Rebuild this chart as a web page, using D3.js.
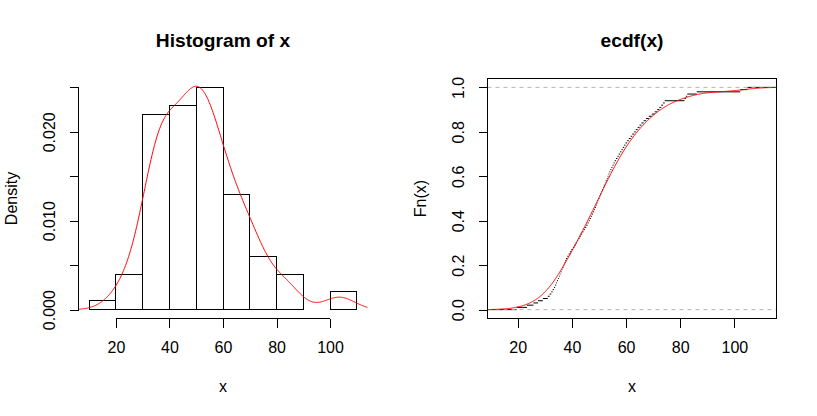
<!DOCTYPE html>
<html><head><meta charset="utf-8">
<script src="https://cdn.jsdelivr.net/npm/d3@7"></script>
<style>
body{margin:0;background:#fff;}
svg{display:block;}
text{font-family:"Liberation Sans",Arial,sans-serif;fill:#000;}
</style></head><body>
<svg id="chart" width="817" height="416"></svg>
<script>
// ---- data ----
const xValues = [
  19.6,
  23.4, 25.8, 27.5, 29.3,
  31.1, 31.8, 32.4, 32.9, 33.4, 33.8, 34.2, 34.5, 34.9, 35.2, 35.5, 35.8, 36.2, 36.5, 36.9, 37.2, 37.5, 37.8, 38.3, 38.8, 39.3, 39.8,
  40.4, 40.9, 41.4, 41.9, 42.3, 42.8, 43.3, 43.8, 44.3, 44.8, 45.3, 45.8, 46.2, 46.6, 47.0, 47.4, 47.8, 48.2, 48.5, 48.9, 49.2, 49.5, 49.8,
  50.2, 50.5, 50.9, 51.2, 51.5, 51.8, 52.2, 52.5, 52.9, 53.2, 53.5, 53.8, 54.2, 54.6, 55.0, 55.4, 55.8, 56.3, 56.8, 57.3, 57.8, 58.3, 58.8, 59.3, 59.8,
  60.4, 61.0, 61.7, 62.3, 63.0, 63.6, 64.3, 65.0, 65.7, 66.5, 67.4, 68.4, 69.5,
  70.6, 71.5, 72.3, 73.0, 73.7, 74.3,
  81.6, 82.1, 82.6, 86.1,
  102.2, 104.8
];
const histBreaks = [10, 20, 30, 40, 50, 60, 70, 80, 90, 100, 110];
const histXTicks = [20, 40, 60, 80, 100];
const histYTicks = [0, 0.005, 0.010, 0.015, 0.020, 0.025];
const histYLabels = ["0.000", "", "0.010", "", "0.020", ""];
const ecdfXTicks = [20, 40, 60, 80, 100];
const ecdfYTicks = [0, 0.2, 0.4, 0.6, 0.8, 1.0];
const ecdfYLabels = ["0.0", "0.2", "0.4", "0.6", "0.8", "1.0"];
const titles = ["Histogram of x", "ecdf(x)"];
const xLabels = ["x", "x"];
const yLabels = ["Density", "Fn(x)"];

// ---- derived statistics (as R does) ----
const svg = d3.select("#chart");
const n = xValues.length;
const sorted = xValues.slice().sort(d3.ascending);
function q7(a, p) { const h = (a.length - 1) * p, lo = Math.floor(h); return a[lo] + (h - lo) * (a[Math.min(lo + 1, a.length - 1)] - a[lo]); }
const sdv = d3.deviation(sorted);
const iqr = q7(sorted, 0.75) - q7(sorted, 0.25);
const bw = 0.9 * Math.min(sdv, iqr / 1.34) * Math.pow(n, -0.2);
const gLo = sorted[0] - 3 * bw, gHi = sorted[n - 1] + 3 * bw;
const grid = d3.range(512).map(i => gLo + (gHi - gLo) * i / 511);
const dens = grid.map(g => [g, d3.sum(sorted, v => Math.exp(-0.5 * ((g - v) / bw) ** 2)) / (n * bw * Math.sqrt(2 * Math.PI))]);
function erf(x) { const s = Math.sign(x); x = Math.abs(x); const t = 1 / (1 + 0.3275911 * x);
  const y = 1 - (((((1.061405429 * t - 1.453152027) * t) + 1.421413741) * t - 0.284496736) * t + 0.254829592) * t * Math.exp(-x * x); return s * y; }
const cdf = grid.map(g => [g, d3.mean(sorted, v => 0.5 * (1 + erf((g - v) / (bw * Math.SQRT2))))]);

// histogram counts, right-closed intervals
const bins = d3.pairs(histBreaks).map(([a, b], i) => {
  const c = sorted.filter(v => (i === 0 ? v >= a : v > a) && v <= b).length;
  return { a, b, d: c / (n * (b - a)) };
});

const FONT = 16, TITLE = 19.2, TICK = 9;
function ext(lo, hi) { const e = 0.04 * (hi - lo); return [lo - e, hi + e]; }

// ---- left panel ----
const L = { x0: 78.5, x1: 367.5, y0: 78.5, y1: 318.5 };
const hx = d3.scaleLinear().domain(ext(histBreaks[0], histBreaks[histBreaks.length - 1])).range([L.x0, L.x1]);
const hy = d3.scaleLinear().domain(ext(0, d3.max(bins, b => b.d))).range([L.y1, L.y0]);

const defs = svg.append("defs");
defs.append("clipPath").attr("id", "clipL").append("rect").attr("x", L.x0).attr("y", L.y0).attr("width", L.x1 - L.x0).attr("height", L.y1 - L.y0);

svg.append("g").selectAll("rect").data(bins).join("rect")
  .attr("x", d => hx(d.a)).attr("width", d => hx(d.b) - hx(d.a))
  .attr("y", d => hy(d.d)).attr("height", d => hy(0) - hy(d.d))
  .attr("fill", "none").attr("stroke", "#000").attr("stroke-width", 1)
  .attr("shape-rendering", "crispEdges");

svg.append("path").datum(dens).attr("clip-path", "url(#clipL)")
  .attr("d", d3.line().x(d => hx(d[0])).y(d => hy(d[1])))
  .attr("fill", "none").attr("stroke", "#ff0000").attr("stroke-width", 1);

function styleAxis(g) {
  g.attr("font-family", null).attr("font-size", null);
  g.selectAll("line").attr("stroke", "#000").attr("shape-rendering", "crispEdges");
  g.selectAll("text").attr("font-size", FONT).attr("fill", "#000");
}
function bottomAxis(scale, ticks, yPos) {
  const g = svg.append("g").attr("transform", `translate(0,${yPos})`)
    .call(d3.axisBottom(scale).tickValues(ticks).tickSize(TICK).tickFormat(d3.format("d")));
  g.select(".domain").remove();
  g.append("line").attr("x1", scale(ticks[0])).attr("x2", scale(ticks[ticks.length - 1]))
    .attr("y1", 0).attr("y2", 0);
  styleAxis(g);
  g.selectAll("text").attr("y", 34.8).attr("dy", 0);
}
function leftAxis(scale, ticks, labels, xPos) {
  const g = svg.append("g").attr("transform", `translate(${xPos},0)`)
    .call(d3.axisLeft(scale).tickValues(ticks).tickSize(TICK).tickFormat((d, i) => labels[i]));
  g.select(".domain").remove();
  g.append("line").attr("y1", scale(ticks[0])).attr("y2", scale(ticks[ticks.length - 1]))
    .attr("x1", 0).attr("x2", 0);
  styleAxis(g);
  g.selectAll("text").attr("x", 0).attr("dy", 0).attr("text-anchor", "middle")
    .attr("transform", "translate(-23.5,0) rotate(-90)");
}

bottomAxis(hx, histXTicks, L.y1);
leftAxis(hy, histYTicks, histYLabels, L.x0);

// ---- right panel ----
const R = { x0: 487.5, x1: 776.5, y0: 78.5, y1: 318.5 };
const diffs = d3.pairs(sorted, (a, b) => b - a);
const dr = Math.max(0.08 * (sorted[n - 1] - sorted[0]), d3.median(diffs));
const xlim = [sorted[0] - dr, sorted[n - 1] + dr];
const ex = d3.scaleLinear().domain(ext(xlim[0], xlim[1])).range([R.x0, R.x1]);
const ey = d3.scaleLinear().domain(ext(0, 1)).range([R.y1, R.y0]);

defs.append("clipPath").attr("id", "clipR").append("rect").attr("x", R.x0).attr("y", R.y0).attr("width", R.x1 - R.x0).attr("height", R.y1 - R.y0);

const ti = [xlim[0] - dr, ...sorted, xlim[1] + dr];
const steps = d3.range(n + 1).map(i => ({ x0: ti[i], x1: ti[i + 1], y: i / n }));
const gR = svg.append("g").attr("clip-path", "url(#clipR)");
gR.selectAll("line.step").data(steps).join("line").attr("class", "step")
  .attr("x1", d => ex(d.x0)).attr("x2", d => ex(d.x1))
  .attr("y1", d => ey(d.y)).attr("y2", d => ey(d.y))
  .attr("stroke", "#000").attr("stroke-width", 1);
gR.selectAll("line.ref").data([0, 1]).join("line").attr("class", "ref")
  .attr("x1", R.x0).attr("x2", R.x1).attr("y1", d => ey(d)).attr("y2", d => ey(d))
  .attr("stroke", "#b3b3b3").attr("stroke-dasharray", "4,4").attr("stroke-width", 1);
gR.append("path").datum(cdf)
  .attr("d", d3.line().x(d => ex(d[0])).y(d => ey(d[1])))
  .attr("fill", "none").attr("stroke", "#ff0000").attr("stroke-width", 1);

svg.append("rect").attr("x", R.x0).attr("y", R.y0).attr("width", R.x1 - R.x0).attr("height", R.y1 - R.y0)
  .attr("fill", "none").attr("stroke", "#000").attr("shape-rendering", "crispEdges");

bottomAxis(ex, ecdfXTicks, R.y1);
leftAxis(ey, ecdfYTicks, ecdfYLabels, R.x0);

// ---- titles & axis titles ----
[L, R].forEach((P, i) => {
  const cx = (P.x0 + P.x1) / 2, cy = (P.y0 + P.y1) / 2;
  svg.append("text").attr("x", cx).attr("y", 46.7).attr("text-anchor", "middle")
    .attr("font-size", TITLE).attr("font-weight", "bold").text(titles[i]);
  svg.append("text").attr("x", cx).attr("y", 391.7).attr("text-anchor", "middle")
    .attr("font-size", FONT).text(xLabels[i]);
  svg.append("text").attr("transform", `translate(${P.x0 - 61.9},${cy}) rotate(-90)`)
    .attr("text-anchor", "middle").attr("font-size", FONT).text(yLabels[i]);
});
</script>
</body></html>
